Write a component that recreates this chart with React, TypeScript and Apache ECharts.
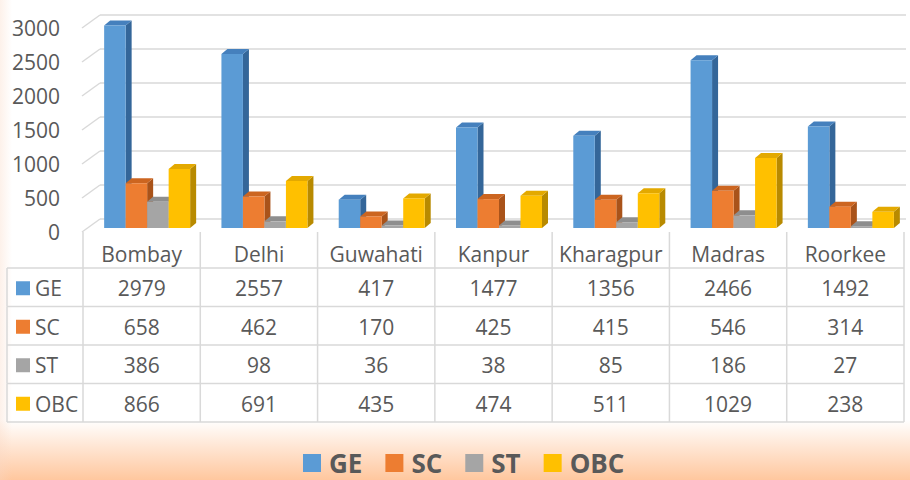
import React, { useEffect, useRef } from "react";
import * as echarts from "echarts";

const categories = ["Bombay", "Delhi", "Guwahati", "Kanpur", "Kharagpur", "Madras", "Roorkee"];
const seriesNames = ["GE", "SC", "ST", "OBC"];
const geValues = [2979, 2557, 417, 1477, 1356, 2466, 1492];
const scValues = [658, 462, 170, 425, 415, 546, 314];
const stValues = [386, 98, 36, 38, 85, 186, 27];
const obcValues = [866, 691, 435, 474, 511, 1029, 238];
const yTicks = [0, 500, 1000, 1500, 2000, 2500, 3000];

const allValues = [geValues, scValues, stValues, obcValues];
const frontColors = ["#5B9BD5", "#ED7D31", "#A5A5A5", "#FFC000"];
const topColors = ["#4580BD", "#CC6520", "#8E8E8E", "#E3A900"];
const sideColors = ["#346699", "#A9531A", "#767676", "#B88A00"];

const FONT = "'Open Sans', sans-serif";
const TEXT = "#595959";
const LINE = "#D9D9D9";
const TABLE_TOP = 232;
const ROW_TOP = 268;
const ROW_H = 38.5;
const BAR_W = 21.5;
const DX = 6;
const DY = -5;

export default function App() {
  const ref = useRef<HTMLDivElement>(null);
  useEffect(() => {
    if (!ref.current) return;
    const chart = echarts.init(ref.current, null, { renderer: "svg" });

    const gridSeries: any = {
      type: "custom",
      name: "grid",
      silent: true,
      clip: false,
      z: 1,
      data: yTicks.map((v) => [0, v]),
      encode: { x: 0, y: 1 },
      renderItem: (params: any, api: any) => {
        const v = api.value(1);
        const y = api.coord([0, v])[1];
        const cs = params.coordSys;
        const style = { stroke: LINE, lineWidth: 1.5 };
        return {
          type: "group",
          children: [
            { type: "line", shape: { x1: cs.x - 1, y1: y + 4, x2: cs.x + 17, y2: y - 9 }, style },
            { type: "line", shape: { x1: cs.x + 17, y1: y - 9, x2: cs.x + cs.width + 2, y2: y - 9 }, style },
            {
              type: "text",
              style: {
                text: String(v),
                x: cs.x - 23,
                y: y + 4,
                textAlign: "right",
                textVerticalAlign: "middle",
                fontSize: 21,
                fontFamily: FONT,
                fill: TEXT,
              },
            },
          ],
        };
      },
    };

    const barSeries: any[] = seriesNames.map((name, s) => ({
      type: "custom",
      name,
      clip: false,
      z: 2,
      itemStyle: { color: frontColors[s] },
      data: allValues[s].map((v, i) => [i, v]),
      encode: { x: 0, y: 1 },
      renderItem: (params: any, api: any) => {
        const c = api.value(0);
        const v = api.value(1);
        const top = api.coord([c, v]);
        const base = api.coord([c, 0]);
        const x0 = top[0] - 2 * BAR_W + 5.5 + s * BAR_W;
        const x1 = x0 + BAR_W;
        const yT = top[1];
        const yB = base[1];
        return {
          type: "group",
          children: [
            {
              type: "polygon",
              shape: { points: [[x1, yB], [x1 + DX, yB + DY], [x1 + DX, yT + DY], [x1, yT]] },
              style: { fill: sideColors[s] },
            },
            {
              type: "polygon",
              shape: { points: [[x0, yT], [x1, yT], [x1 + DX, yT + DY], [x0 + DX, yT + DY]] },
              style: { fill: topColors[s] },
            },
            {
              type: "rect",
              shape: { x: x0, y: yT, width: BAR_W, height: yB - yT },
              style: { fill: frontColors[s] },
            },
          ],
        };
      },
    }));

    const tableSeries: any = {
      type: "custom",
      name: "table",
      silent: true,
      clip: false,
      z: 3,
      data: categories.map((_, i) => [i, 0]),
      encode: { x: 0, y: 1 },
      renderItem: (params: any, api: any) => {
        const i = api.value(0);
        const cx = api.coord([i, 0])[0];
        const band = api.size([1, 0])[0];
        const left = cx - band / 2;
        const bottom = ROW_TOP + ROW_H * seriesNames.length;
        const style = { stroke: LINE, lineWidth: 1.5 };
        const children: any[] = [
          { type: "line", shape: { x1: left, y1: TABLE_TOP, x2: left, y2: bottom }, style },
        ];
        if (i === categories.length - 1) {
          children.push({ type: "line", shape: { x1: left + band, y1: TABLE_TOP, x2: left + band, y2: bottom }, style });
        }
        allValues.forEach((vals, s) => {
          children.push({
            type: "text",
            style: {
              text: String(vals[i]),
              x: cx,
              y: ROW_TOP + ROW_H * s + ROW_H / 2 + 1,
              textAlign: "center",
              textVerticalAlign: "middle",
              fontSize: 21,
              fontFamily: FONT,
              fill: TEXT,
            },
          });
        });
        return { type: "group", children };
      },
    };

    const rowHeaderSeries: any = {
      type: "custom",
      name: "rows",
      silent: true,
      clip: false,
      z: 3,
      data: seriesNames.map(() => [0, 0]),
      encode: { x: 0, y: 1 },
      renderItem: (params: any, api: any) => {
        const k = params.dataIndex;
        const cs = params.coordSys;
        const top = ROW_TOP + ROW_H * k;
        const mid = top + ROW_H / 2 + 1;
        const right = cs.x + cs.width;
        const style = { stroke: LINE, lineWidth: 1.5 };
        const children: any[] = [
          { type: "line", shape: { x1: 7, y1: top, x2: right, y2: top }, style },
          { type: "line", shape: { x1: 7, y1: top, x2: 7, y2: top + ROW_H }, style },
          { type: "rect", shape: { x: 16, y: mid - 7, width: 14, height: 14 }, style: { fill: frontColors[k] } },
          {
            type: "text",
            style: {
              text: seriesNames[k],
              x: 35,
              y: mid,
              textAlign: "left",
              textVerticalAlign: "middle",
              fontSize: 21,
              fontFamily: FONT,
              fill: TEXT,
            },
          },
        ];
        if (k === seriesNames.length - 1) {
          children.push({ type: "line", shape: { x1: 7, y1: top + ROW_H, x2: right, y2: top + ROW_H }, style });
        }
        return { type: "group", children };
      },
    };

    chart.setOption({
      animation: false,
      backgroundColor: new echarts.graphic.LinearGradient(0, 0, 0, 1, [
        { offset: 0, color: "#FFFFFF" },
        { offset: 0.875, color: "#FFFFFF" },
        { offset: 0.93, color: "#FFE6D4" },
        { offset: 1, color: "#FFC79E" },
      ]),
      textStyle: { fontFamily: FONT },
      graphic: [
        {
          type: "rect",
          silent: true,
          z: -1,
          shape: { x: 0, y: 0, width: 12, height: 480 },
          style: {
            fill: new echarts.graphic.LinearGradient(0, 0, 1, 0, [
              { offset: 0, color: "rgba(250,215,195,0.35)" },
              { offset: 1, color: "rgba(250,215,195,0)" },
            ]),
          },
        },
      ],
      legend: {
        data: seriesNames,
        selectedMode: false,
        left: 298,
        top: 450,
        icon: "rect",
        itemWidth: 18,
        itemHeight: 18,
        itemGap: 23,
        padding: [0, 5, 0, 5],
        textStyle: {
          fontSize: 26,
          fontWeight: "bold",
          color: TEXT,
          fontFamily: FONT,
          lineHeight: 24,
          padding: [0, 0, 0, 3],
        },
      },
      grid: { left: 83, right: 6, top: 24, bottom: 252, containLabel: false },
      xAxis: {
        type: "category",
        data: categories,
        axisLine: { show: false },
        axisTick: { show: false },
        splitLine: { show: false },
        axisLabel: { interval: 0, fontSize: 21, color: TEXT, margin: 14, lineHeight: 24, fontFamily: FONT },
      },
      yAxis: {
        type: "value",
        min: 0,
        max: 3000,
        interval: 500,
        axisLine: { show: false },
        axisTick: { show: false },
        splitLine: { show: false },
        axisLabel: { show: false },
      },
      series: [gridSeries, ...barSeries, tableSeries, rowHeaderSeries],
    });
    return () => chart.dispose();
  }, []);
  return (
    <div
      ref={ref}
      style={{ position: "fixed", left: 0, top: 0, width: 910, height: 480, background: "#fff" }}
    />
  );
}
